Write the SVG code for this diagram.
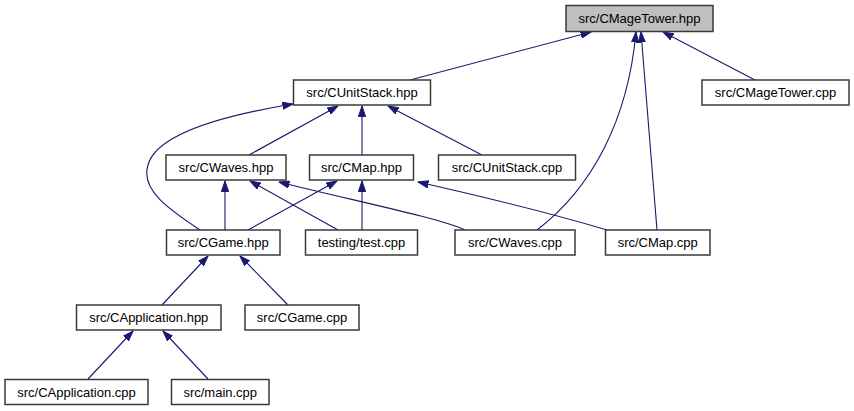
<svg xmlns="http://www.w3.org/2000/svg" width="854" height="411" viewBox="0 0 854 411">
<style>
.n rect{fill:#ffffff;stroke:#3a3a3a;stroke-width:1.5}
.n.h rect{fill:#bfbfbf}
.n text{font-family:"Liberation Sans",Arial,sans-serif;font-size:13px;text-anchor:middle;fill:#000}
.e path{fill:none;stroke:#191970;stroke-width:1.1;marker-end:url(#a)}
</style>
<defs>
<marker id="a" viewBox="0 -4 11 8" refX="10.5" refY="0" markerWidth="11" markerHeight="8" markerUnits="userSpaceOnUse" orient="auto">
<path d="M0,-3.6 L10.5,0 L0,3.6 z" fill="#191970" stroke="#191970" stroke-width="1"/>
</marker>
</defs>
<rect width="854" height="411" fill="#ffffff"/>
<g id="edges" class="e">
<path d="M410,80 L591,32"/>
<path d="M755,80 L663,32"/>
<path d="M537,230 C592,188 628,120 636,32"/>
<path d="M657,230 L641,32"/>
<path d="M200,230 C170,210 140,190 148,165 C156,135 220,116 293,104"/>
<path d="M249,155 L338,106"/>
<path d="M362,155 L362,106"/>
<path d="M482,155 L388,106"/>
<path d="M225,230 L225,181"/>
<path d="M338,230 L250,181"/>
<path d="M465,230 C440,218 350,200 279,182"/>
<path d="M248,230 L337,181"/>
<path d="M362,230 L362,181"/>
<path d="M607,230 C560,216 480,196 418,182"/>
<path d="M162,305 L208,256"/>
<path d="M288,305 L240,256"/>
<path d="M88,379 L133,331"/>
<path d="M208,379 L163,331"/>
</g>
<g id="n_magetower_hpp" class="n h"><rect x="566" y="5.5" width="147" height="26"/><text x="639.5" y="23">src/CMageTower.hpp</text></g>
<g id="n_unitstack_hpp" class="n"><rect x="293.5" y="80" width="137" height="25"/><text x="362" y="97">src/CUnitStack.hpp</text></g>
<g id="n_magetower_cpp" class="n"><rect x="702" y="80" width="147" height="25"/><text x="775.5" y="97">src/CMageTower.cpp</text></g>
<g id="n_waves_hpp" class="n"><rect x="166" y="155" width="120" height="25"/><text x="226" y="172">src/CWaves.hpp</text></g>
<g id="n_map_hpp" class="n"><rect x="309.5" y="155" width="104" height="25"/><text x="361.5" y="172">src/CMap.hpp</text></g>
<g id="n_unitstack_cpp" class="n"><rect x="438.5" y="155" width="137" height="25"/><text x="507" y="172">src/CUnitStack.cpp</text></g>
<g id="n_game_hpp" class="n"><rect x="166.5" y="230" width="113.5" height="25"/><text x="223.25" y="247">src/CGame.hpp</text></g>
<g id="n_test_cpp" class="n"><rect x="305.5" y="230" width="112" height="25"/><text x="361.5" y="247">testing/test.cpp</text></g>
<g id="n_waves_cpp" class="n"><rect x="455" y="230" width="120" height="25"/><text x="515" y="247">src/CWaves.cpp</text></g>
<g id="n_map_cpp" class="n"><rect x="605.5" y="230" width="104.5" height="25"/><text x="657.75" y="247">src/CMap.cpp</text></g>
<g id="n_application_hpp" class="n"><rect x="76.5" y="305" width="144.5" height="25"/><text x="148.75" y="322">src/CApplication.hpp</text></g>
<g id="n_game_cpp" class="n"><rect x="245" y="305" width="114" height="25"/><text x="302" y="322">src/CGame.cpp</text></g>
<g id="n_application_cpp" class="n"><rect x="5" y="379.5" width="143" height="25"/><text x="76.5" y="396.5">src/CApplication.cpp</text></g>
<g id="n_main_cpp" class="n"><rect x="171.5" y="379.5" width="97.5" height="25"/><text x="220.25" y="396.5">src/main.cpp</text></g>
</svg>
